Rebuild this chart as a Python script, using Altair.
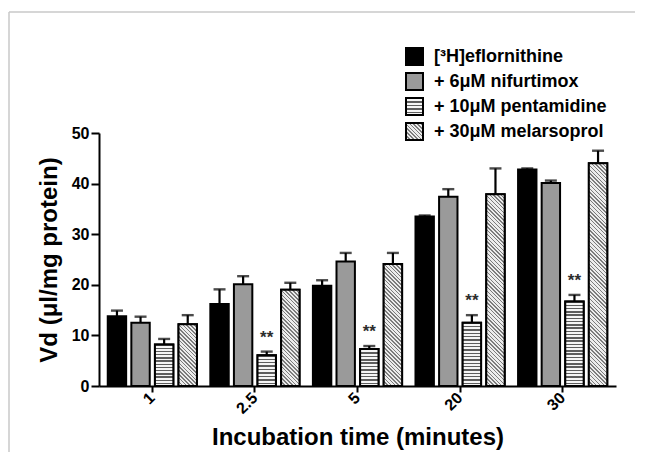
import json
import altair as alt
import pandas as pd

# ---------------- data ----------------
times = ["1", "2.5", "5", "20", "30"]
series = ["[³H]eflornithine", "+ 6μM nifurtimox", "+ 10μM pentamidine", "+ 30μM melarsoprol"]

eflornithine = [13.8, 16.2, 19.8, 33.5, 42.8]
eflornithine_upper = [14.9, 19.1, 20.9, 33.7, 43.0]
nifurtimox = [12.5, 20.1, 24.6, 37.4, 40.1]
nifurtimox_upper = [13.7, 21.7, 26.3, 38.9, 40.6]
pentamidine = [8.2, 6.1, 7.3, 12.5, 16.7]
pentamidine_upper = [9.3, 6.8, 7.9, 14.0, 18.0]
melarsoprol = [12.2, 19.0, 24.1, 37.9, 44.0]
melarsoprol_upper = [14.0, 20.4, 26.3, 43.0, 46.5]
pentamidine_significant = [False, True, True, True, True]

# ---------------- layout ----------------
W, H = 517, 253
YMAX = 50
PI, PO = 0.103, 0.0715
OPI, OPO = 0.22, 0.06
step = W / (len(times) - PI + 2 * PO)
band = step * (1 - PI)
ostep = band / (len(series) - OPI + 2 * OPO)
obw = ostep * (1 - OPI)


def hstripes(h, period=3.3, dark="#5e5e5e", light="#f6f6f6", frac=0.42):
    n = max(1, int(round(h / period)))
    stops = []
    for k in range(n):
        a, b, c = k / n, (k + frac) / n, (k + 1) / n
        stops += [{"offset": round(a, 5), "color": dark},
                  {"offset": round(b, 5), "color": dark},
                  {"offset": round(b, 5), "color": light},
                  {"offset": round(c, 5), "color": light}]
    return {"gradient": "linear", "x1": 0, "y1": 0, "x2": 0, "y2": 1, "stops": stops}


def dstripes(w, h, period=3.8, dark="#7c7c7c", light="#ececec", frac=0.4):
    r = h / w
    L = w * (1 + r * r)
    n = int((w + h) / period) + 2
    stops = []
    for k in range(n):
        a = k * period / L
        if a >= 1:
            break
        b = min(1.0, (k + frac) * period / L)
        c = min(1.0, (k + 1) * period / L)
        stops += [{"offset": round(a, 6), "color": dark},
                  {"offset": round(b, 6), "color": dark},
                  {"offset": round(b, 6), "color": light},
                  {"offset": round(c, 6), "color": light}]
    return {"gradient": "linear", "x1": 0, "y1": 1, "x2": 1, "y2": round(1 - r, 5), "stops": stops}


values = [eflornithine, nifurtimox, pentamidine, melarsoprol]
uppers = [eflornithine_upper, nifurtimox_upper, pentamidine_upper, melarsoprol_upper]

rows = []
for si, s in enumerate(series):
    for ti, t in enumerate(times):
        rows.append({"time": t, "series": s, "value": values[si][ti], "upper": uppers[si][ti],
                     "star": bool(si == 2 and pentamidine_significant[ti])})
df = pd.DataFrame(rows)

pattern_rows = []
for r in rows:
    hpx = r["value"] / YMAX * H
    if r["series"] == series[2]:
        pattern_rows.append(dict(r, grad=hstripes(hpx)))
    elif r["series"] == series[3]:
        pattern_rows.append(dict(r, grad=dstripes(obw, hpx)))

legend_range = [
    "#000000",
    "#9a9a9a",
    {"expr": json.dumps(hstripes(16, period=3.2))},
    {"expr": json.dumps(dstripes(16, 16, period=3.6))},
]

FONT = "Liberation Sans"

x_axis = alt.Axis(title="Incubation time (minutes)", labelAngle=-45, labelAlign="right",
                  labelBaseline="middle", labelFont=FONT, labelFontSize=16, labelFontWeight="bold",
                  labelColor="black", labelPadding=3, tickSize=6, tickWidth=2, tickColor="black",
                  domainColor="black", domainWidth=2, titleFont=FONT, titleFontSize=24,
                  titleFontWeight="bold", titleColor="black", titlePadding=9)
y_axis = alt.Axis(title="Vd (μl/mg protein)", values=[0, 10, 20, 30, 40, 50], grid=False,
                  labelFont=FONT, labelFontSize=16, labelFontWeight="bold", labelColor="black",
                  labelPadding=2, tickSize=8, tickWidth=2, tickColor="black",
                  domainColor="black", domainWidth=2, titleFont=FONT, titleFontSize=24,
                  titleFontWeight="bold", titleColor="black", titlePadding=10)

xenc = alt.X("time:N", sort=times, scale=alt.Scale(domain=times, paddingInner=PI, paddingOuter=PO), axis=x_axis)
xoff = alt.XOffset("series:N", sort=series, scale=alt.Scale(domain=series, paddingInner=OPI, paddingOuter=OPO))
yscale = alt.Scale(domain=[0, YMAX], nice=False)

bars = alt.Chart(df).mark_bar(stroke="black", strokeWidth=2).encode(
    x=xenc, xOffset=xoff,
    y=alt.Y("value:Q", scale=yscale, axis=y_axis),
    color=alt.Color("series:N", sort=series,
                    scale=alt.Scale(domain=series, range=legend_range),
                    legend=alt.Legend(title=None, orient="none", legendX=306, legendY=-86,
                                      symbolType="square", symbolSize=289,
                                      symbolStrokeColor="black", symbolStrokeWidth=2,
                                      symbolOpacity=1, labelFont=FONT, labelFontSize=18,
                                      labelFontWeight="bold", labelColor="black",
                                      labelLimit=400, labelOffset=10, rowPadding=0)),
)

pattern_bars = alt.Chart(alt.Data(values=pattern_rows)).mark_bar(stroke="black", strokeWidth=2).encode(
    x=xenc, xOffset=xoff,
    y=alt.Y("value:Q", scale=yscale, axis=y_axis),
    fill=alt.Fill("grad:N", scale=None),
)

err_line = alt.Chart(df).mark_rule(color="black", strokeWidth=2.2).encode(
    x=xenc, xOffset=xoff,
    y=alt.Y("value:Q", scale=yscale, axis=y_axis), y2="upper:Q",
)
err_cap = alt.Chart(df).mark_tick(color="black", thickness=2.4, size=12).encode(
    x=xenc, xOffset=xoff,
    y=alt.Y("upper:Q", scale=yscale, axis=y_axis),
)
stars = alt.Chart(df[df["star"]]).mark_text(text="**", font=FONT, fontSize=17, fontWeight="bold",
                                             color="#2d2d2d", baseline="alphabetic", dy=-9).encode(
    x=xenc, xOffset=xoff,
    y=alt.Y("upper:Q", scale=yscale, axis=y_axis),
)

frame_top = alt.Chart(alt.Data(values=[{"k": 1}])).mark_rule(color="#c8c8c8", strokeWidth=1.5).encode(
    x=alt.value(-90), x2=alt.value(536), y=alt.value(-121))
frame_left = alt.Chart(alt.Data(values=[{"k": 1}])).mark_rule(color="#c8c8c8", strokeWidth=1.5).encode(
    x=alt.value(-90), y=alt.value(-121), y2=alt.value(330))

chart = alt.layer(frame_top, frame_left, err_line, bars, pattern_bars, err_cap, stars).properties(
    width=W, height=H, autosize="none",
    padding={"left": 91, "top": 125, "right": 22, "bottom": 66},
    background="white",
).configure_view(strokeWidth=0)

chart.save("out.html", embed_options={"renderer": "svg", "actions": False})
